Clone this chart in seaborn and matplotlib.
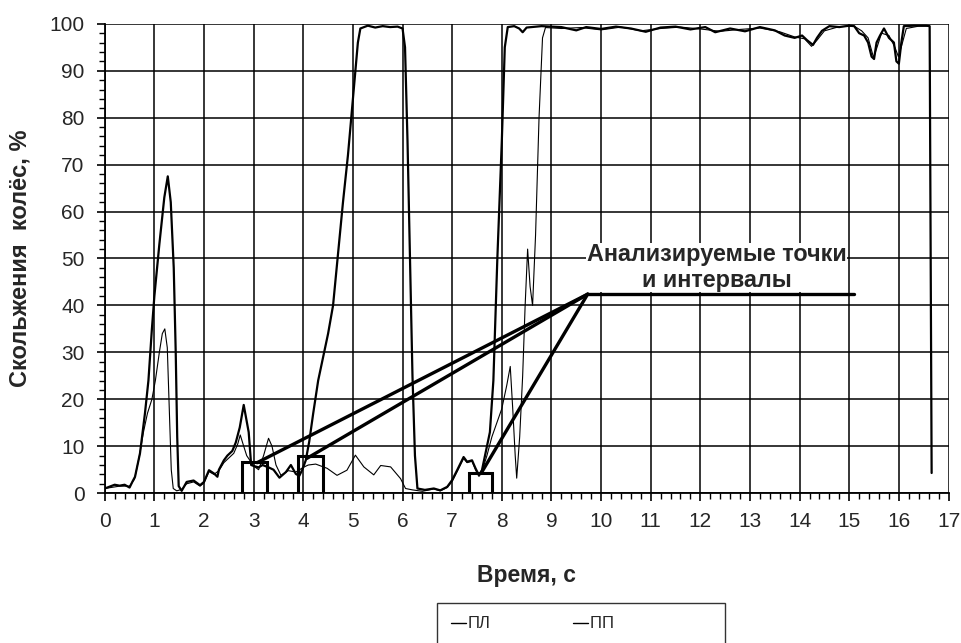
import numpy as np
import pandas as pd
import matplotlib
matplotlib.use("Agg")
import matplotlib.pyplot as plt
from matplotlib.ticker import MultipleLocator
import seaborn as sns

# thick trace (ПЛ)
pl_t = [0.0, 0.1, 0.2, 0.3, 0.4, 0.5, 0.56, 0.61, 0.71, 0.81, 0.88, 0.95, 1.0, 1.1, 1.2, 1.27,
        1.33, 1.39, 1.43, 1.46, 1.49, 1.55, 1.65, 1.79, 1.92, 2.0, 2.1, 2.2, 2.27, 2.3, 2.4,
        2.47, 2.57, 2.64, 2.72, 2.8, 2.9, 2.95, 3.0, 3.1, 3.18, 3.3, 3.4, 3.52, 3.65, 3.75,
        3.85, 3.92, 3.98, 4.05, 4.12, 4.2, 4.3, 4.4, 4.5, 4.6, 4.7, 4.8, 4.9, 5.0, 5.05, 5.1,
        5.15, 5.3, 5.45, 5.6, 5.75, 5.9, 6.0, 6.05, 6.1, 6.15, 6.2, 6.25, 6.3, 6.45, 6.63,
        6.76, 6.9, 7.0, 7.1, 7.23, 7.3, 7.4, 7.47, 7.54, 7.6, 7.68, 7.76, 7.83, 7.91, 8.0,
        8.06, 8.12, 8.25, 8.35, 8.42, 8.5, 8.8, 9.0, 9.2, 9.5, 9.7, 10.0, 10.3, 10.6, 10.9,
        11.2, 11.5, 11.8, 12.1, 12.3, 12.6, 12.9, 13.2, 13.5, 13.7, 13.9, 14.05, 14.15, 14.27,
        14.35, 14.45, 14.6, 14.8, 15.0, 15.1, 15.2, 15.3, 15.38, 15.45, 15.5, 15.55, 15.62,
        15.7, 15.8, 15.9, 15.95, 16.0, 16.05, 16.1, 16.3, 16.55, 16.62, 16.66]
pl_v = [1.0, 1.4, 1.8, 1.6, 1.8, 1.2, 2.5, 3.5, 8.5, 17, 24, 35, 42, 53, 63, 67.5,
        62, 48, 30, 12, 1.5, 0.5, 2.4, 2.7, 1.7, 2.4, 4.9, 4.2, 3.5, 5.0, 7.0,
        8.0, 9.0, 10.8, 14, 18.8, 13, 6.0, 5.8, 5.5, 6.0, 5.5, 5.0, 3.3, 4.5, 6.0,
        4.1, 3.7, 5.0, 7.0, 11, 17, 24, 29, 34, 40, 51, 62, 72, 84, 90, 96,
        99.0, 99.6, 99.2, 99.5, 99.3, 99.4, 99.0, 95, 75, 50, 25, 8, 1.0, 0.7, 1.0,
        0.6, 1.35, 2.8, 4.9, 7.7, 6.7, 7.0, 5.3, 3.8, 4.9, 9, 13, 24, 50, 75,
        95, 99.3, 99.5, 99.0, 98.2, 99.2, 99.5, 99.4, 99.3, 98.6, 99.3, 98.9, 99.4, 99.0, 98.3,
        99.2, 99.4, 98.8, 99.3, 98.2, 99.0, 98.4, 99.3, 98.6, 97.5, 97.0, 97.5, 96.5, 95.5,
        97.0, 98.5, 99.5, 99.3, 99.6, 99.5, 98.0, 97.5, 96.0, 93.0, 92.5, 96.0, 97.5,
        99.0, 97.0, 96.0, 92.0, 91.5, 96.0, 99.5, 99.6, 99.6, 99.5, 4.3]

# thin trace (ПП)
pp_t = [0.0, 0.3, 0.5, 0.6, 0.7, 0.78, 0.86, 0.95, 1.02, 1.1, 1.16, 1.21, 1.26, 1.3, 1.34,
        1.38, 1.45, 1.55, 1.65, 1.79, 1.92, 2.0, 2.1, 2.2, 2.3, 2.4, 2.5, 2.6, 2.68, 2.73,
        2.8, 2.86, 3.0, 3.1, 3.2, 3.3, 3.37, 3.45, 3.55, 3.7, 3.85, 4.0, 4.1, 4.25, 4.48,
        4.68, 4.88, 5.05, 5.22, 5.42, 5.56, 5.76, 5.96, 6.06, 6.2, 6.4, 6.63, 6.76, 6.9, 7.0,
        7.1, 7.23, 7.3, 7.4, 7.47, 7.54, 7.6, 7.7, 7.8, 7.9, 8.0, 8.1, 8.17, 8.22, 8.27, 8.3,
        8.36, 8.42, 8.47, 8.52, 8.57, 8.62, 8.68, 8.75, 8.82, 8.88, 9.2, 9.6, 10.0, 10.4,
        10.8, 11.2, 11.6, 12.0, 12.4, 12.8, 13.2, 13.6, 13.9, 14.1, 14.24, 14.35, 14.5, 14.8,
        15.1, 15.25, 15.38, 15.49, 15.56, 15.65, 15.8, 15.92, 15.99, 16.06, 16.15, 16.4, 16.6]
pp_v = [1.0, 1.5, 1.5, 3, 8, 13, 17, 20, 24, 30, 34, 35, 31, 18, 5,
        1.0, 0.5, 0.8, 2.0, 2.4, 1.5, 2.2, 4.6, 4.0, 4.8, 6.5, 7.5, 8.5, 10.5, 12.4,
        10, 8, 5.8, 5.0, 8.0, 11.7, 10.0, 6.0, 3.8, 4.8, 4.5, 5.5, 6.0, 6.2, 5.3,
        3.8, 4.9, 8.1, 5.6, 3.9, 5.9, 5.6, 3.1, 1.0, 0.7, 0.4, 0.9, 0.5, 1.2, 2.5,
        4.6, 7.4, 6.5, 6.8, 5.0, 3.6, 4.6, 8, 12, 15, 18, 23, 27, 18, 8, 3.2,
        12, 25, 40, 52, 44, 40, 55, 80, 97, 99.2, 99.0, 99.2, 98.7, 99.3,
        98.5, 99.0, 99.3, 98.9, 98.4, 98.8, 99.1, 98.3, 97.2, 96.8, 95.2, 96.5, 98.5, 99.4,
        99.5, 98.5, 97.0, 92.8, 95.0, 98.0, 97.5, 95.0, 93.0, 95.5, 99.0, 99.5, 99.5]

# intervals marked on the traces
iv_start = [2.76, 3.89, 7.34]
iv_end = [3.27, 4.40, 7.81]
iv_height = [6.7, 8.0, 4.2]

# callout lines: start points, meeting point, end of the shelf
call_x = [3.07, 4.07, 7.58]
call_y = [6.5, 7.4, 4.2]
hub_x, hub_y, shelf_end = 9.73, 42.4, 15.1

sns.set_theme(style="white")
plt.rcParams['font.family'] = ['Liberation Sans', 'DejaVu Sans']

fig = plt.figure(figsize=(9.61, 6.43), dpi=100)
ax = fig.add_axes([0.109, 0.233, 0.878, 0.730])

sns.lineplot(x=pl_t, y=pl_v, ax=ax, color='black', linewidth=1.6,
             estimator=None, sort=False, label='ПЛ')
sns.lineplot(x=pp_t, y=pp_v, ax=ax, color='black', linewidth=0.8,
             estimator=None, sort=False, label='ПП')

for x1, x2, h in zip(iv_start, iv_end, iv_height):
    ax.plot([x1, x1, x2, x2], [0, h, h, 0], color='black', linewidth=2.2,
            solid_joinstyle='miter')

for cx, cy in zip(call_x, call_y):
    ax.plot([cx, hub_x], [cy, hub_y], color='black', linewidth=2.4,
            solid_capstyle='round')
ax.plot([hub_x, shelf_end], [hub_y, hub_y], color='black', linewidth=2.4)

ax.text(12.33, 42.9, 'Анализируемые точки\nи интервалы', ha='center', va='bottom',
        fontsize=16.8, fontweight='bold', linespacing=1.15,
        bbox=dict(facecolor='white', edgecolor='none', pad=0.3))

ax.set_xlim(0, 17)
ax.set_ylim(0, 100)
ax.xaxis.set_major_locator(MultipleLocator(1))
ax.xaxis.set_minor_locator(MultipleLocator(0.2))
ax.yaxis.set_major_locator(MultipleLocator(10))
ax.yaxis.set_minor_locator(MultipleLocator(2))
ax.grid(True, which='major', color='black', linewidth=1.1)
ax.set_axisbelow(True)

for side in ['top', 'right']:
    ax.spines[side].set_visible(False)
for side in ['left', 'bottom']:
    ax.spines[side].set_color('black')
    ax.spines[side].set_linewidth(1.3)

ax.tick_params(axis='both', which='major', direction='out', length=6, width=1.2,
               color='black', labelsize=15)
ax.tick_params(axis='y', which='major', pad=8.5)
ax.tick_params(axis='x', which='major', pad=7.5)
ax.tick_params(axis='both', which='minor', direction='out', length=4, width=1.0,
               color='black')
ax.tick_params(axis='both', which='both', bottom=True, left=True)

ax.set_xlabel('Время, с', fontsize=16.5, fontweight='bold', labelpad=24)
ax.set_ylabel('Скольжения  колёс, %', fontsize=17, fontweight='bold')
ax.yaxis.set_label_coords(-0.0865, 0.5)

ax.get_legend().remove()
handles, labels = ax.get_legend_handles_labels()
labels = ['ПЛ', 'ПП' + ' ' * 21]
leg = fig.legend(handles, labels, ncol=2, loc='upper left',
                 bbox_to_anchor=(0.455, 0.062), frameon=True, fancybox=False,
                 edgecolor='black', fontsize=12, handlelength=0.9,
                 handletextpad=0.15, borderpad=0.8, borderaxespad=0.0,
                 columnspacing=4.9)
leg.get_frame().set_linewidth(1.0)
for line in leg.get_lines():
    line.set_linewidth(1.0)

fig.savefig('out.png', dpi=100)
